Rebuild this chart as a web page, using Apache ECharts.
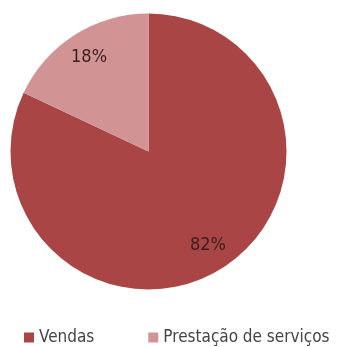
<!DOCTYPE html>
<html><head><meta charset="utf-8">
<script src="https://cdn.jsdelivr.net/npm/echarts@6/dist/echarts.min.js"></script>
<style>html,body{margin:0;padding:0;background:#fff}#c{width:340px;height:347px}</style>
</head><body><div id="c"></div>
<script>
const categories = ['Vendas', 'Prestação de serviços'];
const values = [82, 18];
const colors = ['#A94545', '#D19393'];

const data = categories.map((n, i) => ({ name: n, value: values[i], itemStyle: { color: colors[i] } }));
const chart = echarts.init(document.getElementById('c'));
chart.setOption({
  animation: false,
  legend: {
    data: categories.map((n, i) => ({ name: n, itemStyle: { color: colors[i] } })),
    left: 19, top: 324, itemWidth: 10, itemHeight: 10, itemGap: 54, icon: 'rect',
    textStyle: { fontFamily: 'DejaVu Sans Condensed', fontSize: 17, color: '#444' }
  },
  series: [{
    type: 'pie', center: [148.5, 151.5], radius: [0, 138], startAngle: 90, clockwise: true,
    label: { show: false }, labelLine: { show: false }, silent: true, data: data
  }, {
    type: 'pie', center: [148.5, 151.5], radius: [78, 138], startAngle: 90, clockwise: true,
    itemStyle: { color: 'rgba(0,0,0,0)' }, labelLine: { show: false }, silent: true,
    label: { show: true, position: 'inside', formatter: '{d}%', fontFamily: 'DejaVu Sans Condensed', fontSize: 18, color: '#3a1e1e' },
    data: categories.map((n, i) => ({ name: n, value: values[i] }))
  }]
});
</script></body></html>
